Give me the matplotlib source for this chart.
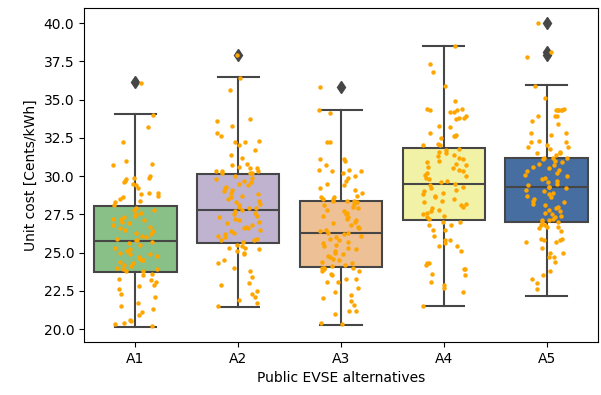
import colorsys
import numpy as np
import matplotlib
matplotlib.use("Agg")
import matplotlib.pyplot as plt
import matplotlib.colors as mcolors

categories = ["A1", "A2", "A3", "A4", "A5"]
palette = ["#7fc97f", "#beaed4", "#fdc086", "#ffff99", "#386cb0"]

# box statistics
q1 = [23.73, 25.62, 24.05, 27.12, 27.00]
medians = [25.75, 27.78, 26.27, 29.48, 29.28]
q3 = [28.04, 30.13, 28.37, 31.83, 31.18]
whislo = [20.13, 21.44, 20.26, 21.50, 22.16]
whishi = [34.05, 36.47, 34.31, 38.50, 35.95]
fliers = [[36.14], [37.90], [35.82], [], [40.0, 38.10, 37.90]]

# individual observations (strip points)
A1 = [36.1, 34.0, 33.2, 32.2, 31.0, 30.8, 30.7, 30.0, 29.9, 29.9, 29.8, 29.7, 29.6,
      29.5, 29.4, 29.2, 28.9, 28.9, 28.8, 28.7, 28.6, 28.5, 28.4, 28.3, 28.1,
      27.9, 27.8, 27.8, 27.6, 27.5, 27.4, 27.3, 27.2, 27.2, 27.1, 27.0, 26.9, 26.8,
      26.7, 26.6, 26.5, 26.4, 26.3, 26.2, 26.1, 26.0, 25.9, 25.8, 25.8, 25.7, 25.6,
      25.5, 25.3, 25.2, 25.1, 25.0, 24.9, 24.9, 24.8, 24.7, 24.6, 24.5, 24.5, 24.4,
      24.3, 24.2, 24.1, 24.0, 23.9, 23.9, 23.8, 23.8,
      23.6, 23.5, 23.3, 23.2, 23.1, 22.9, 22.8, 22.6, 22.3, 22.1, 21.7, 21.5, 21.3,
      21.1, 20.9, 20.6, 20.5, 20.4, 20.3, 20.2]
A2 = [37.9, 36.4, 35.6, 33.7, 33.6, 33.3, 32.8, 32.6, 32.3, 32.2, 32.2, 32.0, 31.7,
      31.4, 31.2, 30.8, 30.7, 30.6, 30.5, 30.5, 30.3, 30.3, 30.3, 30.2, 30.2, 30.2,
      30.0, 29.9, 29.8, 29.7, 29.6, 29.5, 29.4, 29.3, 29.2, 29.1, 29.0, 28.9, 28.8,
      28.7, 28.6, 28.5, 28.4, 28.3, 28.2, 28.1, 28.0, 27.9, 27.9, 27.8, 27.7, 27.6,
      27.5, 27.4, 27.3, 27.2, 27.1, 27.0, 26.9, 26.8, 26.7, 26.6, 26.6, 26.5, 26.4,
      26.3, 26.2, 26.1, 26.0, 25.9, 25.8, 25.8, 25.7,
      25.5, 25.4, 25.3, 25.3, 25.2, 25.1, 25.0, 24.9, 24.5, 24.3, 24.0, 23.8, 23.4,
      23.0, 22.9, 22.5, 22.3, 22.1, 21.9, 21.7, 21.5]
A3 = [35.8, 34.3, 34.1, 32.2, 32.2, 31.1, 31.1, 31.0, 30.7, 30.4, 30.4, 30.3, 30.3,
      30.2, 30.0, 29.9, 29.7, 29.5, 29.4, 29.2, 29.1, 28.9, 28.7, 28.6, 28.6, 28.5,
      28.5, 28.4, 28.4, 28.4,
      28.3, 28.2, 28.1, 28.0, 27.9, 27.8, 27.7, 27.6, 27.5, 27.4, 27.3, 27.2, 27.1,
      27.0, 26.9, 26.8, 26.7, 26.6, 26.5, 26.4, 26.3, 26.3, 26.2, 26.1, 26.0, 25.9,
      25.8, 25.7, 25.6, 25.5, 25.4, 25.3, 25.2, 25.1, 25.0, 24.9, 24.8, 24.7, 24.6,
      24.5, 24.4, 24.3, 24.2, 24.1,
      24.0, 24.0, 24.0, 24.0, 23.9, 23.8, 23.8, 23.6, 23.5, 23.3, 23.3, 23.1, 23.1,
      22.7, 22.4, 22.2, 22.0, 21.8, 21.6, 21.2, 21.2, 21.0, 20.4, 20.3]
A4 = [38.5, 37.3, 36.8, 35.9, 34.9, 34.4, 34.4, 34.3, 34.3, 34.2, 34.2, 33.9, 33.8,
      33.8, 33.7, 33.3, 33.2, 32.8, 32.7, 32.6, 32.6, 32.5, 32.1, 32.0, 32.0,
      31.8, 31.7, 31.6, 31.5, 31.4, 31.3, 31.2, 31.1, 31.0, 30.9, 30.8, 30.7, 30.6,
      30.5, 30.4, 30.3, 30.2, 30.1, 30.0, 29.9, 29.8, 29.7, 29.6, 29.5, 29.4, 29.3,
      29.2, 29.1, 29.0, 28.9, 28.8, 28.7, 28.6, 28.5, 28.4, 28.3, 28.2, 28.1, 28.0,
      27.9, 27.8, 27.7, 27.6, 27.5, 27.4, 27.3, 27.2,
      27.0, 27.0, 26.8, 26.8, 26.5, 26.5, 26.1, 25.8, 25.8, 25.6, 25.4, 25.4, 25.1,
      24.3, 24.3, 24.2, 23.9, 23.9, 23.6, 23.5, 23.1, 22.9, 22.7, 22.4, 21.5]
A5 = [40.0, 38.1, 37.8, 35.9, 35.1, 34.4, 34.3, 34.3, 34.3, 34.3, 34.3, 33.9, 33.9,
      33.9, 33.6, 33.4, 32.8, 32.8, 32.7, 32.3, 32.2, 32.2, 32.0, 31.9, 31.9, 31.8,
      31.6, 31.5, 31.5, 31.4, 31.2, 31.2, 31.2,
      31.1, 31.0, 30.9, 30.8, 30.7, 30.6, 30.5, 30.4, 30.3, 30.2, 30.1, 30.0, 29.9,
      29.8, 29.7, 29.6, 29.5, 29.4, 29.3, 29.3, 29.2, 29.1, 29.0, 28.9, 28.8, 28.7,
      28.6, 28.5, 28.4, 28.3, 28.2, 28.1, 28.0, 27.9, 27.8, 27.7, 27.6, 27.5, 27.4,
      27.3, 27.2,
      27.1, 27.1, 27.0, 27.0, 26.8, 26.8, 26.7, 26.7, 26.6, 26.4, 25.9, 25.9, 25.8,
      25.8, 25.7, 25.7, 25.3, 25.0, 25.0, 24.7, 24.7, 24.4, 23.8, 23.5, 23.3, 23.0,
      22.6]
observations = [A1, A2, A3, A4, A5]


def desaturate(c, prop=0.75):
    r, g, b = mcolors.to_rgb(c)
    h, l, s = colorsys.rgb_to_hls(r, g, b)
    return colorsys.hls_to_rgb(h, l, s * prop)


faces = [desaturate(c) for c in palette]
lum = min(colorsys.rgb_to_hls(*mcolors.to_rgb(c))[1] for c in palette) * 0.6
gray = (lum, lum, lum)

fig = plt.figure(figsize=(6.01, 3.95), dpi=100)
ax = fig.add_axes([84 / 601, 1 - 342 / 395, (598 - 84) / 601, (342 - 8) / 395])

stats = []
for i, cat in enumerate(categories):
    stats.append(dict(label=cat, med=medians[i], q1=q1[i], q3=q3[i],
                      whislo=whislo[i], whishi=whishi[i], fliers=fliers[i]))

positions = np.arange(len(categories))
bp = ax.bxp(stats, positions=positions, widths=0.8, patch_artist=True,
            boxprops=dict(edgecolor=gray, linewidth=1.5),
            medianprops=dict(color=gray, linewidth=1.5),
            whiskerprops=dict(color=gray, linewidth=1.5),
            capprops=dict(color=gray, linewidth=1.5),
            flierprops=dict(marker="d", markerfacecolor=gray, markeredgecolor=gray,
                            markersize=6, linestyle="none"))
for patch, fc in zip(bp["boxes"], faces):
    patch.set_facecolor(fc)

# strip jitter, like seaborn's stripplot (horizontal offsets only)
rng = np.random.default_rng(7)
for i, vals in enumerate(observations):
    offs = rng.uniform(-0.22, 0.22, len(vals))
    ax.plot(positions[i] + offs, vals, "o", color="orange", markersize=3.2,
            markeredgewidth=0, zorder=5)

ax.set_xlim(-0.5, 4.5)
ax.set_ylim(19.15, 40.99)
ax.set_yticks(np.arange(20.0, 40.01, 2.5))
ax.set_yticklabels([f"{v:.1f}" for v in np.arange(20.0, 40.01, 2.5)])
ax.set_xticks(positions)
ax.set_xticklabels(categories)
ax.set_xlabel("Public EVSE alternatives")
ax.set_ylabel("Unit cost [Cents/kWh]")

fig.savefig("out.png", dpi=100)
